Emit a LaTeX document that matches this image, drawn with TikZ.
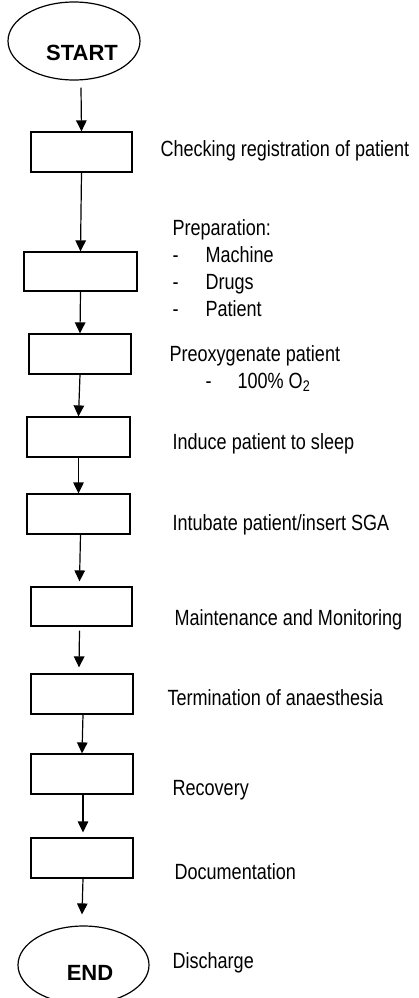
\documentclass[tikz,border=0pt]{standalone}
\usepackage{fontspec}
\setmainfont{Liberation Sans}
\newfontfamily\narrowfont{Liberation Sans}[FakeStretch=0.82]
\usetikzlibrary{shapes.geometric,arrows.meta}
\begin{document}
\begin{tikzpicture}[x=1pt,y=-1pt,line width=1.2pt,
  stepbox/.style={draw,rectangle,minimum width=#1,minimum height=40pt,inner sep=0pt},
  stepbox/.default=102pt,
  term/.style={draw,ellipse,minimum width=132pt,minimum height=78pt,inner sep=0pt},
  lbl/.style={anchor=base west,inner sep=0pt,font=\narrowfont\fontsize{22}{26}\selectfont},
  boldtxt/.style={inner sep=0pt,font=\fontsize{22}{26}\selectfont\bfseries},
  arr/.style={-{Triangle[length=11pt,width=10.5pt]}}]
\useasboundingbox (0,0) rectangle (418,998);
\clip (0,0) rectangle (418,998);

% terminals
\node[term] (start) at (74,41) {};
\node[boldtxt] (starttxt) at (82,53) {START};
\node[term,minimum width=131pt] (end) at (83.5,965) {};
\node[boldtxt] (endtxt) at (90,973) {END};

% boxes
\node[stepbox=101pt] (b1) at (81.5,152) {};
\node[stepbox=113pt,minimum height=39pt] (b2) at (80.5,271.5) {};
\node[stepbox=102pt] (b3) at (80,354) {};
\node[stepbox=103pt] (b4) at (78.5,437) {};
\node[stepbox=103pt] (b5) at (78.5,514) {};
\node[stepbox=101pt,minimum height=39pt] (b6) at (81.5,606.5) {};
\node[stepbox=102pt] (b7) at (82,694) {};
\node[stepbox=102pt] (b8) at (82,774) {};
\node[stepbox=102pt] (b9) at (82,858) {};

% connectors
\draw[arr] ([xshift=7pt,yshift=-7pt]start.south) -- (b1.north);
\draw[arr] (b1.south) -- (b2.north);
\draw[arr] (b2.south) -- (b3.north);
\draw[arr] (b3.south) -- (b4.north);
\draw[arr] (b4.south) -- (b5.north);
\draw[arr] ([xshift=2pt]b5.south) -- ([xshift=-2pt,yshift=5pt]b6.north);
\draw[arr] ([xshift=-2pt,yshift=-4pt]b6.south) -- ([xshift=-3pt,yshift=6pt]b7.north);
\draw[arr] ([xshift=1pt]b7.south) -- (b8.north -| b7.south);
\draw[arr] ([xshift=1pt]b8.south) -- ([xshift=1pt,yshift=5pt]b9.north);
\draw[arr] ([xshift=1pt]b9.south) -- ([yshift=11pt]b9.south |- end.north);

% labels
\node[lbl] (l1) at (160,156) {Checking registration of patient};
\node[lbl] (l2) at (172,235) {Preparation:};
\node[lbl] (l2a) at (172,262) {-};
\node[lbl] (l2at) at (205,262) {Machine};
\node[lbl] (l2b) at (172,289) {-};
\node[lbl] (l2bt) at (205,289) {Drugs};
\node[lbl] (l2c) at (172,316) {-};
\node[lbl] (l2ct) at (205,316) {Patient};
\node[lbl] (l3) at (169,361) {Preoxygenate patient};
\node[lbl] (l3a) at (205,388) {-};
\node[lbl] (l3at) at (237,388) {100\% O\textsubscript{2}};
\node[lbl] (l4) at (172,449) {Induce patient to sleep};
\node[lbl] (l5) at (172,530) {Intubate patient/insert SGA};
\node[lbl] (l6) at (174,625) {Maintenance and Monitoring};
\node[lbl] (l7) at (167,705) {Termination of anaesthesia};
\node[lbl] (l8) at (172,795) {Recovery};
\node[lbl] (l9) at (174,879) {Documentation};
\node[lbl] (l10) at (172,968) {Discharge};
\end{tikzpicture}
\end{document}
